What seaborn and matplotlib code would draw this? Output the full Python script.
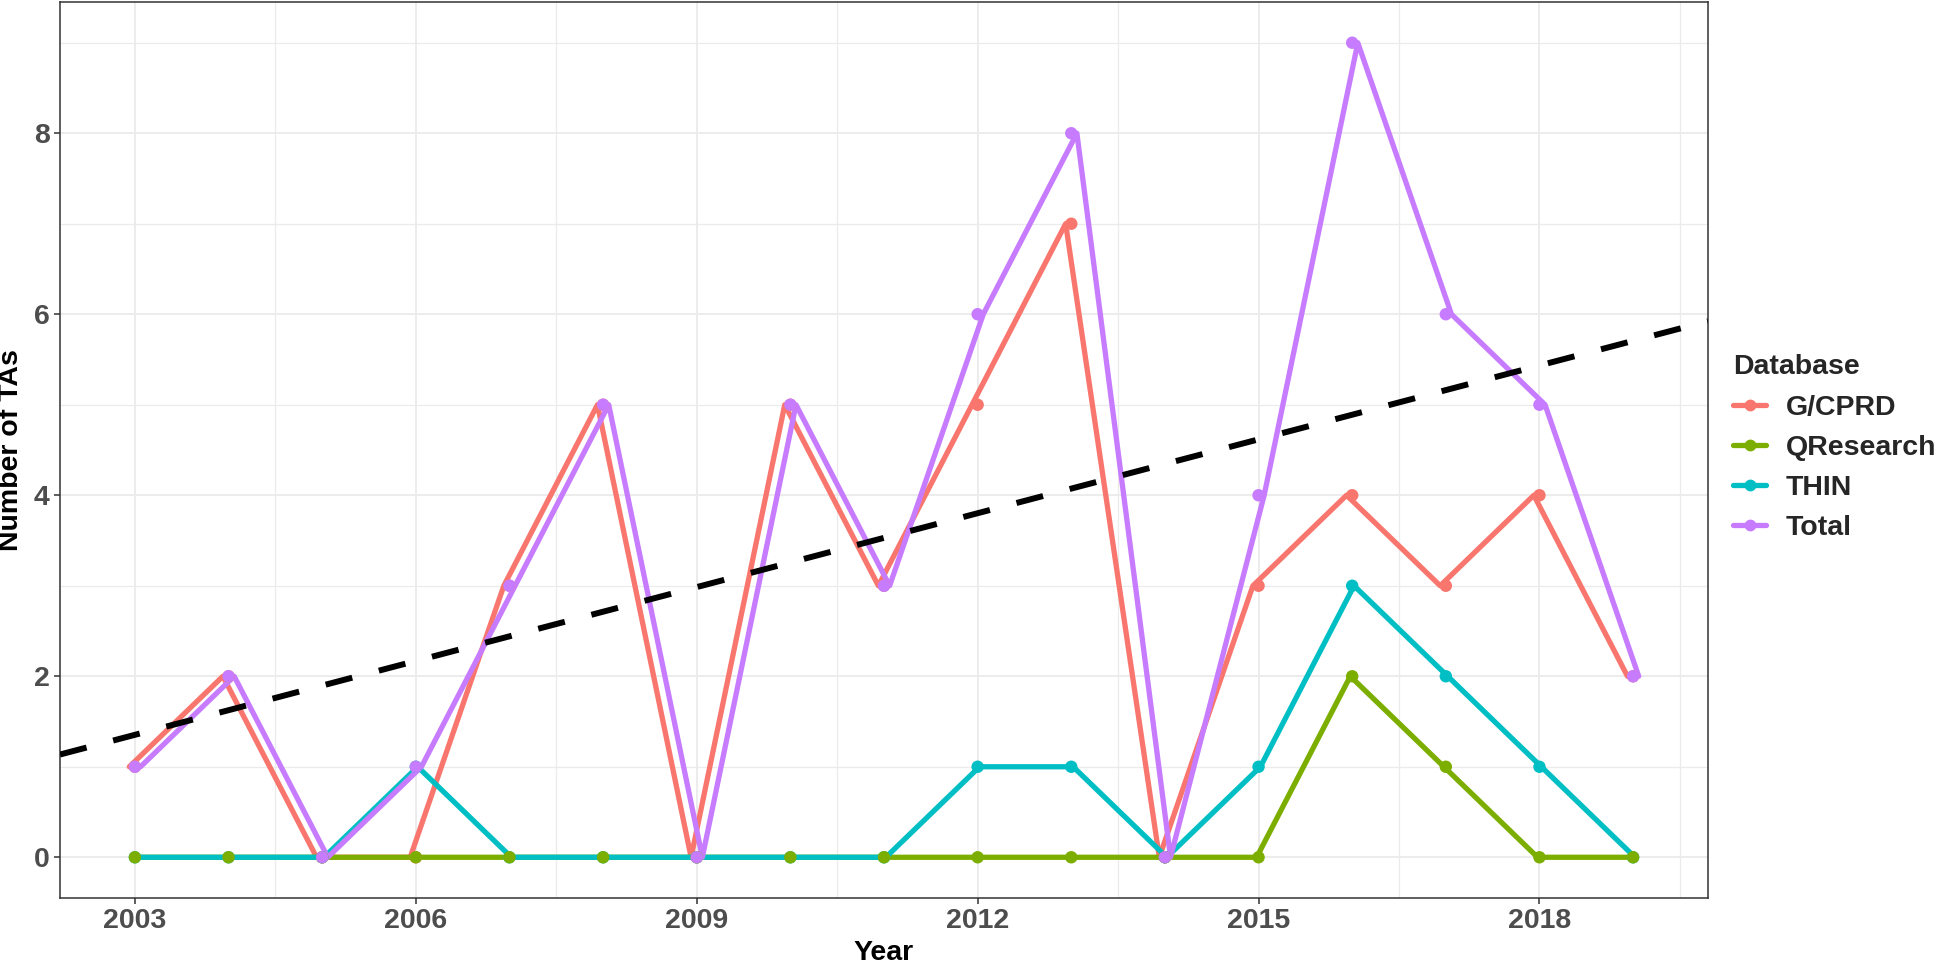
import numpy as np
import pandas as pd
import matplotlib
matplotlib.use("Agg")
import matplotlib.pyplot as plt
from matplotlib.lines import Line2D
import seaborn as sns

years = list(range(2003, 2020))
gcprd = [1, 2, 0, 0, 3, 5, 0, 5, 3, 5, 7, 0, 3, 4, 3, 4, 2]
qresearch = [0, 0, 0, 0, 0, 0, 0, 0, 0, 0, 0, 0, 0, 2, 1, 0, 0]
thin = [0, 0, 0, 1, 0, 0, 0, 0, 0, 1, 1, 0, 1, 3, 2, 1, 0]
total = [1, 2, 0, 1, 3, 5, 0, 5, 3, 6, 8, 0, 4, 9, 6, 5, 2]

databases = ["G/CPRD", "QResearch", "THIN", "Total"]
colors = ["#F8766D", "#7CAE00", "#00BFC4", "#C77CFF"]
x_ticks = [2003, 2006, 2009, 2012, 2015, 2018]
y_ticks = [0, 2, 4, 6, 8]

series = {"G/CPRD": gcprd, "QResearch": qresearch, "THIN": thin, "Total": total}
# small horizontal dodge of the lines, like position_dodge in the original
dodge = {"G/CPRD": -0.06, "QResearch": -0.02, "THIN": 0.02, "Total": 0.06}

rows = []
for name in databases:
    for yr, v in zip(years, series[name]):
        rows.append({"Year": yr, "x_line": yr + dodge[name], "TAs": v, "Database": name})
df = pd.DataFrame(rows)
palette = dict(zip(databases, colors))

sns.set_theme(style="whitegrid")
plt.rcParams["font.family"] = ["Liberation Sans", "DejaVu Sans"]
plt.rcParams["font.weight"] = "bold"

FS = 20.5

fig = plt.figure(figsize=(19.46, 9.64), dpi=100)
ax = fig.add_axes([60 / 1946, 66 / 964, (1708 - 60) / 1946, (962 - 66) / 964])
ax.set_facecolor("white")

sns.lineplot(data=df, x="x_line", y="TAs", hue="Database", hue_order=databases,
             palette=palette, linewidth=3.8, estimator=None, legend=False, ax=ax, zorder=3)

for name in ["G/CPRD", "THIN", "QResearch", "Total"]:
    sub = df[df["Database"] == name]
    sns.scatterplot(data=sub, x="Year", y="TAs", color=palette[name], s=80,
                    edgecolor="none", legend=False, ax=ax, zorder=4)

# linear trend of the total
slope, intercept = np.polyfit(years, total, 1)
ax.axline((2003, intercept + slope * 2003), slope=slope, color="black",
          linewidth=4.3, dashes=(4.6, 4.6), zorder=5)

ax.set_xlim(2002.2, 2019.8)
ax.set_ylim(-0.45, 9.45)
ax.set_xticks(x_ticks)
ax.set_xticks([2004.5, 2007.5, 2010.5, 2013.5, 2016.5, 2019.5], minor=True)
ax.set_yticks(y_ticks)
ax.set_yticks([1, 3, 5, 7, 9], minor=True)
ax.grid(which="major", color="#EBEBEB", linewidth=1.3)
ax.grid(which="minor", color="#EBEBEB", linewidth=0.9)
ax.set_axisbelow(True)

for sp in ax.spines.values():
    sp.set_color("#333333")
    sp.set_linewidth(1.1)
    sp.set_visible(True)

ax.tick_params(axis="both", which="major", length=4.5, width=1.1, color="#333333",
               labelsize=FS, labelcolor="#4D4D4D", pad=3, bottom=True, left=True)
ax.tick_params(axis="both", which="minor", length=0)
for lab in ax.get_xticklabels() + ax.get_yticklabels():
    lab.set_fontweight("bold")

ax.set_xlabel("Year", fontsize=FS, fontweight="bold", color="black", labelpad=4)
ax.set_ylabel("Number of TAs", fontsize=FS, fontweight="bold", color="black", labelpad=7)

handles = [Line2D([], [], color=c, linewidth=3.8, marker="o", markersize=8.5,
                  markeredgewidth=0) for c in colors]
leg = fig.legend(handles, databases, loc="upper left",
                 bbox_to_anchor=(1722 / 1946, 1 - 343 / 964), frameon=False,
                 title="Database", fontsize=FS, handlelength=1.15, handletextpad=0.7,
                 labelspacing=0.5, borderaxespad=0)
leg.get_title().set_fontsize(FS)
leg.get_title().set_fontweight("bold")
leg._legend_box.align = "left"
for t in leg.get_texts():
    t.set_fontweight("bold")

fig.savefig("out.png", dpi=100, facecolor="white")
